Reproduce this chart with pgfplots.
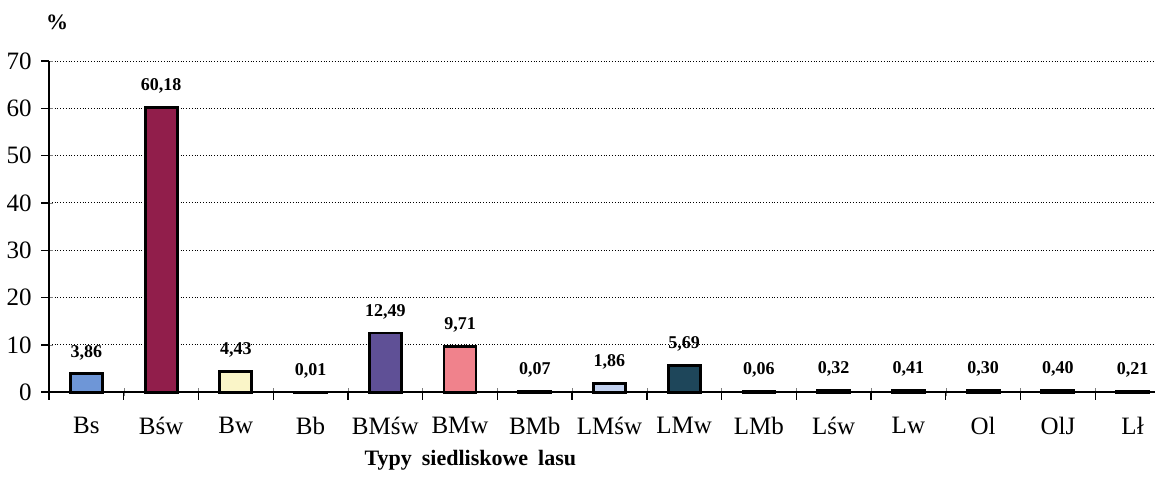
\documentclass[border=0pt]{standalone}
\usepackage{pgfplots}
\pgfplotsset{compat=1.18}
\usepackage{fontspec}
\setmainfont{Liberation Serif}
\definecolor{cBs}{RGB}{110,150,215}
\definecolor{cBsw}{RGB}{145,30,75}
\definecolor{cBw}{RGB}{250,245,200}
\definecolor{cBMsw}{RGB}{95,80,150}
\definecolor{cBMw}{RGB}{240,130,140}
\definecolor{cLMsw}{RGB}{195,210,240}
\definecolor{cLMw}{RGB}{30,70,90}
\definecolor{ciemny}{RGB}{60,60,75}

\begin{document}
\begin{tikzpicture}
\path[use as bounding box] (-24.5pt,-45pt) rectangle (552.8pt,196pt);
\begin{axis}[
    at={(0,0)}, anchor=south west,
    scale only axis,
    width=552.8pt, height=165.5pt,
    ybar, bar width=16pt, bar shift=0pt,
    xmin=-0.5, xmax=14.3,
    ymin=0, ymax=70,
    ytick={0,10,...,70},
    % ticks sit between the categories; labels are moved half a step right
    xtick={-0.5,0.5,...,13.5},
    xticklabels={Bs,Bśw,Bw,Bb,BMśw,BMw,BMb,LMśw,LMw,LMb,Lśw,Lw,Ol,OlJ,Lł},
    xticklabel style={xshift=18.68pt, yshift=-7pt},
    yticklabel style={xshift=-3pt},
    axis x line=bottom, axis y line=left,
    axis line style={-, black, line width=0.8pt},
    ymajorgrids,
    grid style={densely dotted, black, line width=0.5pt},
    tick label style={font=\fontsize{12.5}{14}\selectfont},
    /pgf/number format/assume math mode=true,
    every axis plot/.append style={draw=black, line width=1.4pt},
    nodes near coords={\pgfmathprintnumber[fixed,fixed zerofill,precision=2,use comma,assume math mode=true]{\pgfplotspointmeta}},
    every node near coord/.append style={font=\fontsize{9}{11}\bfseries, black, anchor=south, yshift=3pt},
    xlabel={Typy\hspace{0.45em}siedliskowe\hspace{0.45em}lasu},
    xlabel style={font=\fontsize{11}{13}\bfseries, at={(0.381,0)}, anchor=center, yshift=-34pt},
    clip=false,
]
\addplot[fill=cBs] coordinates {(0,3.86)};
\addplot[fill=cBsw] coordinates {(1,60.18)};
\addplot[fill=cBw] coordinates {(2,4.43)};
\addplot[fill=ciemny] coordinates {(3,0.01)};
\addplot[fill=cBMsw] coordinates {(4,12.49)};
\addplot[fill=cBMw] coordinates {(5,9.71)};
\addplot[fill=ciemny] coordinates {(6,0.07)};
\addplot[fill=cLMsw] coordinates {(7,1.86)};
\addplot[fill=cLMw] coordinates {(8,5.69)};
\addplot[fill=ciemny] coordinates {(9,0.06)};
\addplot[fill=ciemny] coordinates {(10,0.32)};
\addplot[fill=ciemny] coordinates {(11,0.41)};
\addplot[fill=ciemny] coordinates {(12,0.30)};
\addplot[fill=ciemny] coordinates {(13,0.40)};
\addplot[fill=ciemny] coordinates {(14,0.21)};
% tick marks drawn by hand (outside, between categories)
\pgfplotsinvokeforeach{-0.5,0.5,...,13.5}{
  \draw[black, line width=0.7pt] (axis cs:#1,0) -- ([yshift=-4pt]axis cs:#1,0);
}
\pgfplotsinvokeforeach{0,10,...,70}{
  \draw[black, line width=0.7pt] (axis cs:-0.5,#1) -- ([xshift=-4pt]axis cs:-0.5,#1);
}
\node[font=\fontsize{11}{13}\bfseries, anchor=center] at ([xshift=4pt,yshift=19.5pt]rel axis cs:0,1) {\%};
\end{axis}
\end{tikzpicture}
\end{document}
